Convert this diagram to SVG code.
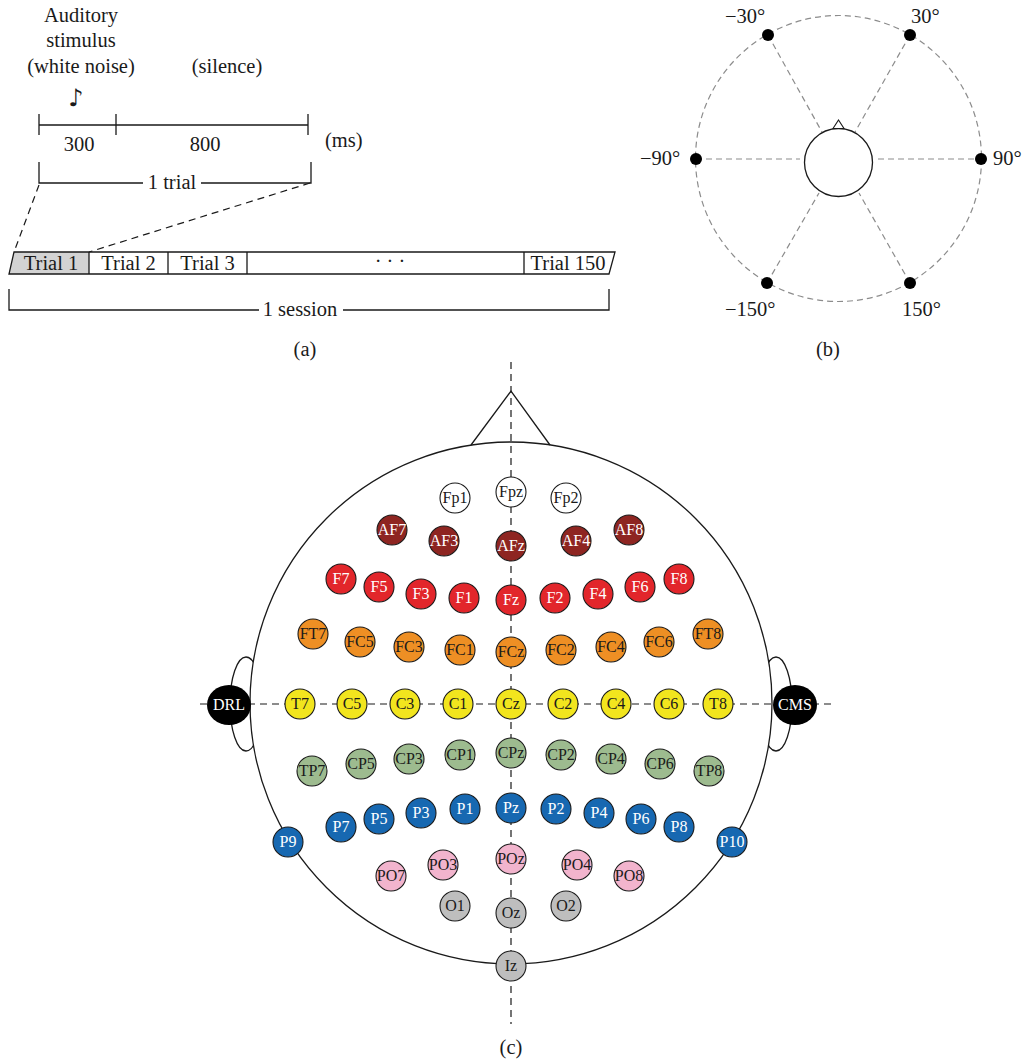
<svg xmlns="http://www.w3.org/2000/svg" width="1023" height="1059" viewBox="0 0 1023 1059">
<style>
text{font-family:"Liberation Serif","Times New Roman",serif;fill:#1a1a1a}
.t{font-size:20.5px}
.c{text-anchor:middle}
.ln{stroke:#1a1a1a;stroke-width:1.3;fill:none}
.dk{stroke:#1a1a1a;stroke-width:1.2;fill:none;stroke-dasharray:7 5}
.gd{stroke:#8c8c8c;stroke-width:1.2;fill:none;stroke-dasharray:6 4}
.e circle{stroke:#1a1a1a;stroke-width:1.1}
.e text{font-size:16px;text-anchor:middle}
.wt text{fill:#fff}
.fp circle{fill:#fff}
.af circle{fill:#8e2521}
.f circle{fill:#e2262b}
.fc circle{fill:#ee8f24}
.cc circle{fill:#f2e51e}
.cp circle{fill:#9dbb8f}
.p circle{fill:#1768b1}
.po circle{fill:#f2b4cd}
.o circle{fill:#bebebe}
</style>

<!-- Panel (a) -->
<g id="panel-a">
  <text class="t c" x="81" y="22">Auditory</text>
  <text class="t c" x="81" y="47">stimulus</text>
  <text class="t c" x="81" y="73">(white noise)</text>
  <text class="t c" x="227" y="73">(silence)</text>
  <text x="76" y="106" style="font-family:'DejaVu Sans',sans-serif;font-size:24px;font-weight:bold;text-anchor:middle">♪</text>
  <path class="ln" d="M39,125 H308 M39,114 V135 M116,114 V135 M308,114 V135"/>
  <text class="t c" x="79" y="151">300</text>
  <text class="t c" x="205" y="151">800</text>
  <text class="t" x="325" y="147">(ms)</text>
  <path class="ln" d="M39,162 V183 H143 M201,183 H311 V162"/>
  <text class="t c" x="172" y="189">1 trial</text>
  <path class="dk" d="M39,185 L14,252 M310,183 L89,252"/>
  <polygon points="14,252 89,252 89,274 9,274" fill="#d3d3d3"/>
  <polygon class="ln" points="14,252 615,252 609,274 9,274"/>
  <path class="ln" d="M89,252 V274 M168,252 V274 M247,252 V274 M524,252 V274"/>
  <text class="t c" x="51" y="270">Trial 1</text>
  <text class="t c" x="128.5" y="270">Trial 2</text>
  <text class="t c" x="207.5" y="270">Trial 3</text>
  <text class="t c" x="390" y="268">· · ·</text>
  <text class="t c" x="568" y="270">Trial 150</text>
  <path class="ln" d="M9,289 V310 H259 M343,310 H609 V289"/>
  <text class="t c" x="300" y="316">1 session</text>
  <text class="t c" x="305" y="356">(a)</text>
</g>

<!-- Panel (b) -->
<g id="panel-b">
  <circle class="gd" cx="838.5" cy="158.5" r="143"/>
  <path class="gd" d="M696,159 H800 M878,159 H981 M768,35 L822,132 M910,35 L855,132 M767,283 L819,193 M910,283 L859,193"/>
  <circle cx="838.5" cy="162.5" r="34" fill="#fff" stroke="#1a1a1a" stroke-width="1.3"/>
  <polygon points="833,128.5 838.5,120 844,128.5" fill="#fff" stroke="#1a1a1a" stroke-width="1.1"/>
  <g fill="#000">
    <circle cx="768" cy="35" r="6"/>
    <circle cx="910" cy="35" r="6"/>
    <circle cx="696" cy="159" r="6"/>
    <circle cx="981" cy="159" r="6"/>
    <circle cx="767" cy="283" r="6"/>
    <circle cx="910" cy="283" r="6"/>
  </g>
  <text class="t" x="725" y="23">−30°</text>
  <text class="t" x="911" y="23">30°</text>
  <text class="t" x="640" y="165">−90°</text>
  <text class="t" x="993" y="165">90°</text>
  <text class="t" x="725" y="316">−150°</text>
  <text class="t" x="902" y="316">150°</text>
  <text class="t c" x="828" y="356">(b)</text>
</g>

<!-- Panel (c) head -->
<g id="head">
  <ellipse cx="246" cy="704" rx="16" ry="47" fill="#fff" stroke="#1a1a1a" stroke-width="1.3"/>
  <ellipse cx="776" cy="704" rx="16" ry="47" fill="#fff" stroke="#1a1a1a" stroke-width="1.3"/>
  <circle cx="511" cy="703" r="261" fill="#fff" stroke="#1a1a1a" stroke-width="1.3"/>
  <polyline class="ln" points="471,445 511,391 550,445"/>
</g>

<g id="connectors">
  <path class="dk" d="M511,362 V1024"/>
  <path class="dk" d="M200,704 H832"/>
</g>

<g id="references" class="e wt">
  <g id="DRL"><ellipse cx="229" cy="705" rx="22" ry="20" fill="#000"/><text x="229" y="710">DRL</text></g>
  <g id="CMS"><ellipse cx="795" cy="705" rx="22" ry="20" fill="#000"/><text x="795" y="710">CMS</text></g>
</g>

<g class="e fp">
  <g id="Fp1"><circle cx="455" cy="498" r="15"/><text x="455" y="503">Fp1</text></g>
  <g id="Fpz"><circle cx="511" cy="492" r="15"/><text x="511" y="497">Fpz</text></g>
  <g id="Fp2"><circle cx="566" cy="498" r="15"/><text x="566" y="503">Fp2</text></g>
</g>
<g class="e af wt">
  <g id="AF7"><circle cx="392" cy="530" r="15"/><text x="392" y="535">AF7</text></g>
  <g id="AF3"><circle cx="444" cy="541" r="15"/><text x="444" y="546">AF3</text></g>
  <g id="AFz"><circle cx="511" cy="546" r="15"/><text x="511" y="551">AFz</text></g>
  <g id="AF4"><circle cx="576" cy="541" r="15"/><text x="576" y="546">AF4</text></g>
  <g id="AF8"><circle cx="629" cy="530" r="15"/><text x="629" y="535">AF8</text></g>
</g>
<g class="e f wt">
  <g id="F7"><circle cx="341" cy="579" r="15"/><text x="341" y="584">F7</text></g>
  <g id="F5"><circle cx="379" cy="587" r="15"/><text x="379" y="592">F5</text></g>
  <g id="F3"><circle cx="421" cy="594" r="15"/><text x="421" y="599">F3</text></g>
  <g id="F1"><circle cx="464" cy="598" r="15"/><text x="464" y="603">F1</text></g>
  <g id="Fz"><circle cx="511" cy="600" r="15"/><text x="511" y="605">Fz</text></g>
  <g id="F2"><circle cx="555" cy="598" r="15"/><text x="555" y="603">F2</text></g>
  <g id="F4"><circle cx="598" cy="594" r="15"/><text x="598" y="599">F4</text></g>
  <g id="F6"><circle cx="640" cy="587" r="15"/><text x="640" y="592">F6</text></g>
  <g id="F8"><circle cx="679" cy="579" r="15"/><text x="679" y="584">F8</text></g>
</g>
<g class="e fc">
  <g id="FT7"><circle cx="313" cy="634" r="15"/><text x="313" y="639">FT7</text></g>
  <g id="FC5"><circle cx="360" cy="642" r="15"/><text x="360" y="647">FC5</text></g>
  <g id="FC3"><circle cx="409" cy="647" r="15"/><text x="409" y="652">FC3</text></g>
  <g id="FC1"><circle cx="460" cy="650" r="15"/><text x="460" y="655">FC1</text></g>
  <g id="FCz"><circle cx="511" cy="652" r="15"/><text x="511" y="657">FCz</text></g>
  <g id="FC2"><circle cx="561" cy="650" r="15"/><text x="561" y="655">FC2</text></g>
  <g id="FC4"><circle cx="611" cy="647" r="15"/><text x="611" y="652">FC4</text></g>
  <g id="FC6"><circle cx="659" cy="642" r="15"/><text x="659" y="647">FC6</text></g>
  <g id="FT8"><circle cx="708" cy="634" r="15"/><text x="708" y="639">FT8</text></g>
</g>
<g class="e cc">
  <g id="T7"><circle cx="300" cy="704" r="15"/><text x="300" y="709">T7</text></g>
  <g id="C5"><circle cx="352" cy="704" r="15"/><text x="352" y="709">C5</text></g>
  <g id="C3"><circle cx="405" cy="704" r="15"/><text x="405" y="709">C3</text></g>
  <g id="C1"><circle cx="458" cy="704" r="15"/><text x="458" y="709">C1</text></g>
  <g id="Cz"><circle cx="511" cy="704" r="15"/><text x="511" y="709">Cz</text></g>
  <g id="C2"><circle cx="563" cy="704" r="15"/><text x="563" y="709">C2</text></g>
  <g id="C4"><circle cx="616" cy="704" r="15"/><text x="616" y="709">C4</text></g>
  <g id="C6"><circle cx="669" cy="704" r="15"/><text x="669" y="709">C6</text></g>
  <g id="T8"><circle cx="718" cy="704" r="15"/><text x="718" y="709">T8</text></g>
</g>
<g class="e cp">
  <g id="TP7"><circle cx="312" cy="771" r="15"/><text x="312" y="776">TP7</text></g>
  <g id="CP5"><circle cx="361" cy="764" r="15"/><text x="361" y="769">CP5</text></g>
  <g id="CP3"><circle cx="409" cy="759" r="15"/><text x="409" y="764">CP3</text></g>
  <g id="CP1"><circle cx="460" cy="755" r="15"/><text x="460" y="760">CP1</text></g>
  <g id="CPz"><circle cx="511" cy="753" r="15"/><text x="511" y="758">CPz</text></g>
  <g id="CP2"><circle cx="561" cy="755" r="15"/><text x="561" y="760">CP2</text></g>
  <g id="CP4"><circle cx="611" cy="759" r="15"/><text x="611" y="764">CP4</text></g>
  <g id="CP6"><circle cx="660" cy="764" r="15"/><text x="660" y="769">CP6</text></g>
  <g id="TP8"><circle cx="709" cy="771" r="15"/><text x="709" y="776">TP8</text></g>
</g>
<g class="e p wt">
  <g id="P9"><circle cx="288" cy="842" r="15"/><text x="288" y="847">P9</text></g>
  <g id="P7"><circle cx="341" cy="827" r="15"/><text x="341" y="832">P7</text></g>
  <g id="P5"><circle cx="379" cy="819" r="15"/><text x="379" y="824">P5</text></g>
  <g id="P3"><circle cx="421" cy="813" r="15"/><text x="421" y="818">P3</text></g>
  <g id="P1"><circle cx="465" cy="809" r="15"/><text x="465" y="814">P1</text></g>
  <g id="Pz"><circle cx="511" cy="808" r="15"/><text x="511" y="813">Pz</text></g>
  <g id="P2"><circle cx="556" cy="809" r="15"/><text x="556" y="814">P2</text></g>
  <g id="P4"><circle cx="599" cy="813" r="15"/><text x="599" y="818">P4</text></g>
  <g id="P6"><circle cx="641" cy="819" r="15"/><text x="641" y="824">P6</text></g>
  <g id="P8"><circle cx="679" cy="827" r="15"/><text x="679" y="832">P8</text></g>
  <g id="P10"><circle cx="732" cy="842" r="15"/><text x="732" y="847">P10</text></g>
</g>
<g class="e po">
  <g id="PO7"><circle cx="391" cy="876" r="15"/><text x="391" y="881">PO7</text></g>
  <g id="PO3"><circle cx="443" cy="865" r="15"/><text x="443" y="870">PO3</text></g>
  <g id="POz"><circle cx="511" cy="859" r="15"/><text x="511" y="864">POz</text></g>
  <g id="PO4"><circle cx="577" cy="865" r="15"/><text x="577" y="870">PO4</text></g>
  <g id="PO8"><circle cx="629" cy="876" r="15"/><text x="629" y="881">PO8</text></g>
</g>
<g class="e o">
  <g id="O1"><circle cx="455" cy="906" r="15"/><text x="455" y="911">O1</text></g>
  <g id="Oz"><circle cx="511" cy="913" r="15"/><text x="511" y="918">Oz</text></g>
  <g id="O2"><circle cx="566" cy="906" r="15"/><text x="566" y="911">O2</text></g>
  <g id="Iz"><circle cx="511" cy="966" r="15"/><text x="511" y="971">Iz</text></g>
</g>
<text class="t c" x="511" y="1054">(c)</text>
</svg>
